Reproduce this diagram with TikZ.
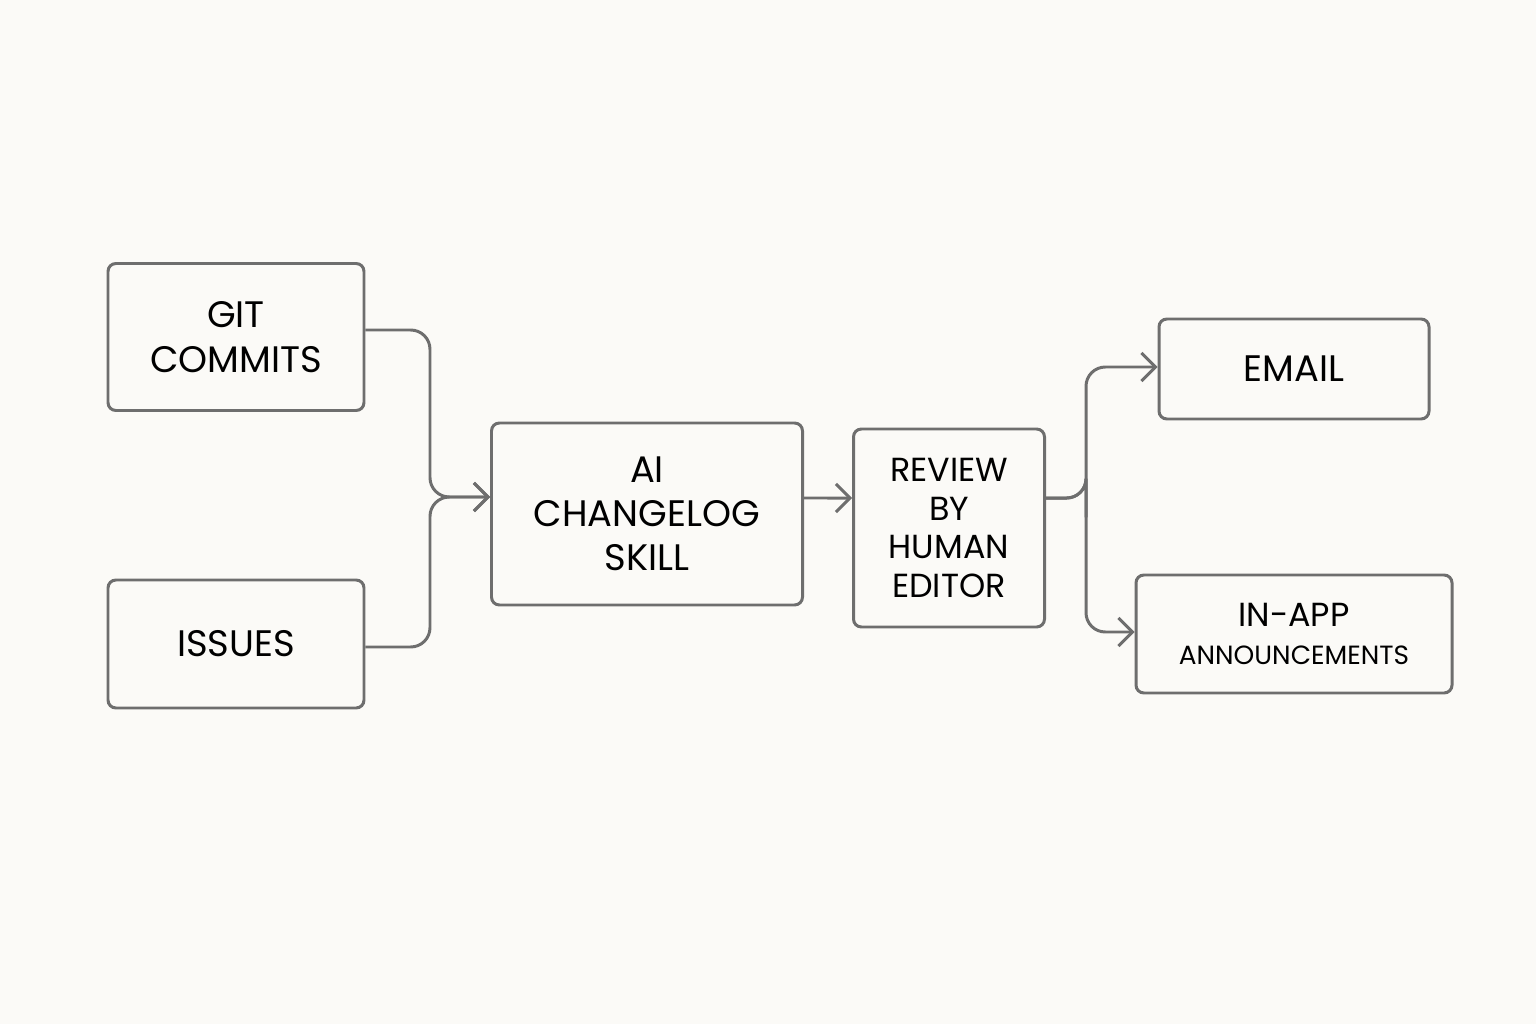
\documentclass[tikz,border=0pt]{standalone}
\usepackage{fontspec}
\setmainfont{Poppins}
\usetikzlibrary{arrows.meta}
\definecolor{bg}{HTML}{FBFAF7}
\definecolor{ln}{HTML}{6E6E6E}
\begin{document}
\begin{tikzpicture}[x=0.02cm,y=-0.02cm,
  box/.style={draw=ln,line width=1.7pt,rounded corners=4.5pt,fill=bg,align=center,text=black,inner sep=0pt},
  conn/.style={draw=ln,line width=1.7pt,rounded corners=11pt,-{Straight Barb[length=8pt,width=16pt,line width=1.7pt]}}]
\fill[bg] (0,0) rectangle (1536,1024);
\node[box,minimum width=256*0.02cm,minimum height=147*0.02cm,font=\fontsize{21}{26}\selectfont] (git) at (236,337) {GIT\\COMMITS};
\node[box,minimum width=256*0.02cm,minimum height=128*0.02cm,font=\fontsize{21}{26}\selectfont] (iss) at (236,644) {ISSUES};
\node[box,minimum width=311*0.02cm,minimum height=182*0.02cm,font=\fontsize{21}{25}\selectfont] (ai) at (647,514) {AI\\CHANGELOG\\SKILL};
\node[box,minimum width=191*0.02cm,minimum height=198*0.02cm,font=\fontsize{19}{22}\selectfont] (rev) at (949,528) {REVIEW\\BY\\HUMAN\\EDITOR};
\node[box,minimum width=270*0.02cm,minimum height=100*0.02cm,font=\fontsize{21}{26}\selectfont] (em) at (1294,369) {EMAIL};
\node[box,minimum width=316*0.02cm,minimum height=118*0.02cm,font=\fontsize{15}{22}\selectfont] (app) at (1294,634) {{\fontsize{19}{22}\selectfont IN-APP}\\ANNOUNCEMENTS};
\coordinate (j1) at (430,497);
\coordinate (j2) at (1086,498);
\draw[conn] ([yshift=0.14cm]git.east) -| (j1) -- ([yshift=0.34cm]ai.west);
\draw[conn] ([yshift=-0.06cm]iss.east) -| (j1) -- ([yshift=0.34cm]ai.west);
\draw[conn] ([yshift=0.32cm]ai.east) -- ([yshift=0.6cm]rev.west);
\draw[conn] ([yshift=0.6cm]rev.east) -| (j2) |- ([yshift=0.04cm]em.west);
\draw[conn] ([yshift=0.6cm]rev.east) -| (j2) |- ([yshift=0.04cm]app.west);
\end{tikzpicture}
\end{document}
